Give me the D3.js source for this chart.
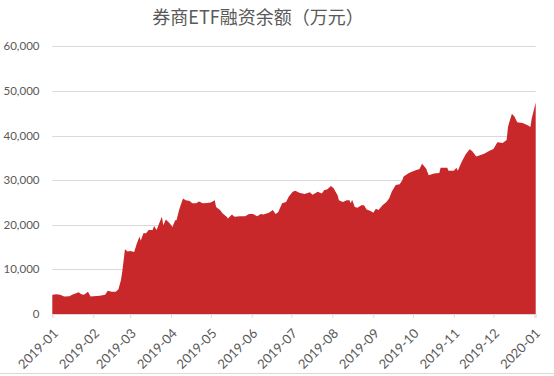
<!DOCTYPE html>
<html>
<head>
<meta charset="utf-8">
<script src="https://cdn.jsdelivr.net/npm/d3@7"></script>
<style>
  body { margin: 0; background: #fff; }
  svg { display: block; }
</style>
</head>
<body>
<div id="chart"></div>
<script>
// values (万元)
var dates = ["2019-01-01","2019-01-04","2019-01-07","2019-01-10","2019-01-14","2019-01-16","2019-01-21","2019-01-23","2019-01-25","2019-01-28",
  "2019-01-30","2019-02-01","2019-02-06","2019-02-10","2019-02-12","2019-02-15","2019-02-18","2019-02-20","2019-02-22","2019-02-23",
  "2019-02-25","2019-02-27","2019-03-01","2019-03-04","2019-03-06","2019-03-08","2019-03-09","2019-03-11","2019-03-13","2019-03-15",
  "2019-03-18","2019-03-19","2019-03-21","2019-03-23","2019-03-25","2019-03-26","2019-03-28","2019-03-31","2019-04-02","2019-04-04",
  "2019-04-05","2019-04-07","2019-04-09","2019-04-10","2019-04-12","2019-04-15","2019-04-17","2019-04-20","2019-04-22","2019-04-25",
  "2019-04-28","2019-05-01","2019-05-04","2019-05-05","2019-05-08","2019-05-10","2019-05-13","2019-05-14","2019-05-17","2019-05-19",
  "2019-05-23","2019-05-27","2019-05-30","2019-06-02","2019-06-05","2019-06-08","2019-06-10","2019-06-14","2019-06-17","2019-06-19",
  "2019-06-21","2019-06-24","2019-06-27","2019-06-29","2019-07-02","2019-07-04","2019-07-07","2019-07-11","2019-07-15","2019-07-17",
  "2019-07-21","2019-07-24","2019-07-26","2019-07-28","2019-07-31","2019-08-02","2019-08-05","2019-08-06","2019-08-09","2019-08-12",
  "2019-08-14","2019-08-15","2019-08-16","2019-08-18","2019-08-20","2019-08-23","2019-08-25","2019-08-27","2019-08-30","2019-09-01",
  "2019-09-03","2019-09-05","2019-09-08","2019-09-11","2019-09-13","2019-09-15","2019-09-18","2019-09-21","2019-09-23","2019-09-24",
  "2019-09-28","2019-10-02","2019-10-06","2019-10-08","2019-10-11","2019-10-13","2019-10-17","2019-10-21","2019-10-22","2019-10-27",
  "2019-10-28","2019-11-01","2019-11-03","2019-11-04","2019-11-07","2019-11-10","2019-11-13","2019-11-15","2019-11-18","2019-11-24",
  "2019-11-28","2019-12-01","2019-12-04","2019-12-08","2019-12-11","2019-12-12","2019-12-13","2019-12-15","2019-12-17","2019-12-19",
  "2019-12-23","2019-12-27","2019-12-29","2019-12-30","2020-01-02"];
var balance = [4300,4400,4300,3900,4000,4300,4900,4400,4300,5000,
  3900,4000,4100,4300,5200,5000,5000,5500,7600,9500,
  14500,14000,14100,13900,15800,17300,16500,18100,18100,18800,
  18800,19700,18800,20400,21800,19900,21200,20300,19500,21000,
  21000,23300,25100,25900,25500,25300,24800,24800,25200,24800,
  24900,25000,25500,24000,23300,22500,21800,21400,22300,21800,
  21900,21900,22400,22400,21900,22400,22300,22700,23300,22400,
  22800,24800,25100,26300,27400,27600,27200,26900,27300,26700,
  27400,27000,27800,27900,28700,28200,26600,25500,25100,25500,
  25500,24800,25600,24000,23800,24400,24400,23400,23100,22700,
  23600,23300,24400,25100,25900,27400,28900,29100,30000,30800,
  31600,32100,32500,33700,32600,31100,31500,31600,32800,32800,
  32100,32100,32800,32100,34100,35800,36900,36500,35300,35900,
  36600,37000,38500,38300,39000,41900,43000,44900,44200,43000,
  42800,42300,41900,43800,47400];
var yTicks = [0, 10000, 20000, 30000, 40000, 50000, 60000];
var monthTicks = ["2019-01","2019-02","2019-03","2019-04","2019-05","2019-06","2019-07",
  "2019-08","2019-09","2019-10","2019-11","2019-12","2020-01"];
var title = "券商ETF融资余额（万元）";

var W = 554, H = 376;
var parse = d3.timeParse("%Y-%m-%d");
var parseMonth = d3.timeParse("%Y-%m");

var data = dates.map(function(d, i) { return {date: parse(d), value: balance[i]}; });

var svg = d3.select("#chart").append("svg")
    .attr("width", W)
    .attr("height", H);

var x = d3.scaleTime()
    .domain([parse("2019-01-01"), parse("2020-01-02")])
    .range([52.3, 535.7]);

var y = d3.scaleLinear()
    .domain([0, 60000])
    .range([314, 46.3]);

var font = "Lato, 'Noto Sans', sans-serif";
var grey = "#595959";

// title
svg.append("text")
    .attr("x", 258)
    .attr("y", 24)
    .attr("text-anchor", "middle")
    .attr("font-family", "'Noto Sans CJK SC', sans-serif")
    .attr("font-size", "18px")
    .attr("fill", grey)
    .text(title);

// gridlines
svg.append("g")
    .attr("class", "grid")
    .selectAll("line")
    .data(yTicks.slice(1))
    .enter().append("line")
    .attr("x1", 52.3)
    .attr("x2", 535.7)
    .attr("y1", function(d) { return Math.round(y(d)) + 0.5; })
    .attr("y2", function(d) { return Math.round(y(d)) + 0.5; })
    .attr("stroke", "#d9d9d9")
    .attr("stroke-width", 1);

// y labels
svg.append("g")
    .selectAll("text")
    .data(yTicks)
    .enter().append("text")
    .attr("x", 39.5)
    .attr("y", function(d) { return y(d); })
    .attr("dy", "0.35em")
    .attr("text-anchor", "end")
    .attr("font-family", font)
    .attr("font-size", "11.5px")
    .attr("fill", grey)
    .text(function(d) { return d3.format(",")(d); });

// area
var area = d3.area()
    .x(function(d) { return x(d.date); })
    .y0(y(0))
    .y1(function(d) { return y(d.value); });

svg.append("path")
    .datum(data)
    .attr("d", area)
    .attr("fill", "#c8282a");

// x axis
var xAxis = d3.axisBottom(x)
    .tickValues(monthTicks.map(parseMonth))
    .tickSize(4)
    .tickFormat(d3.timeFormat("%Y-%m"));

var gx = svg.append("g")
    .attr("transform", "translate(0," + 314 + ")")
    .call(xAxis);

gx.select(".domain").attr("stroke", "#d9d9d9");
gx.selectAll(".tick line").attr("stroke", "#d9d9d9");
gx.selectAll(".tick text")
    .attr("font-family", font)
    .attr("font-size", "13px")
    .attr("fill", grey)
    .attr("text-anchor", "end")
    .attr("transform", "translate(3,17) rotate(-45)")
    .attr("x", 0)
    .attr("y", 0)
    .attr("dy", "0.35em");

// chart frame bottom edge
svg.append("line")
    .attr("x1", 0)
    .attr("x2", W)
    .attr("y1", 373.5)
    .attr("y2", 373.5)
    .attr("stroke", "#d9d9d9");
</script>
</body>
</html>
